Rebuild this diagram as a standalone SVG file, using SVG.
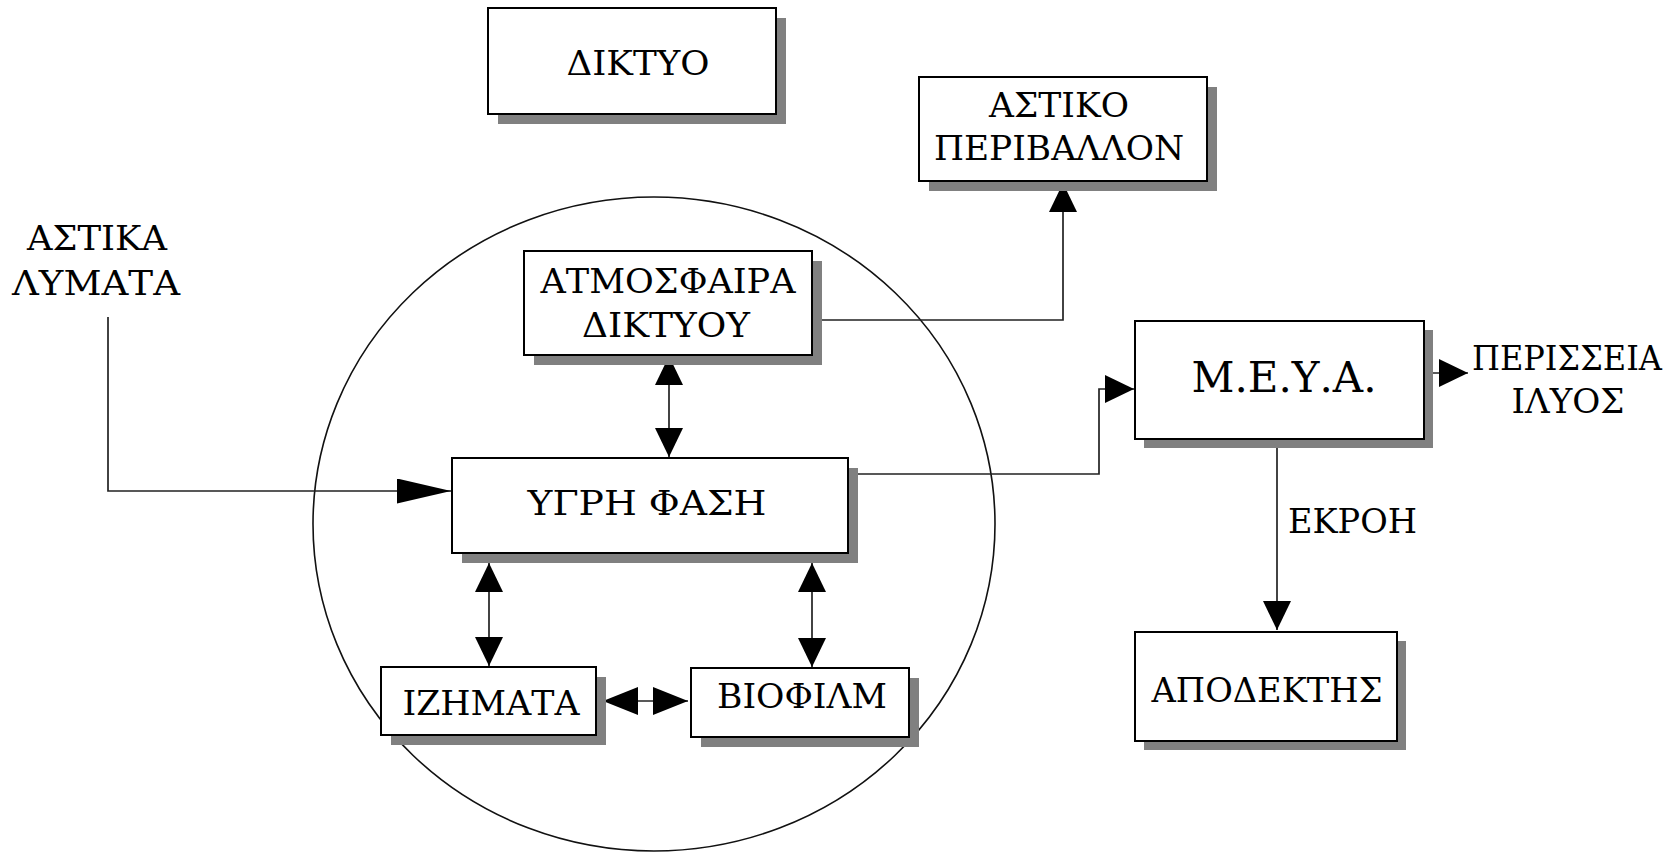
<svg xmlns="http://www.w3.org/2000/svg" width="1677" height="855" viewBox="0 0 1677 855">
<defs>
<style>
.sh{fill:#808080;}
.bx{fill:#fff;stroke:#000;stroke-width:2;}
.t{font-family:"DejaVu Serif","Liberation Serif",serif;font-size:33px;fill:#000;text-anchor:middle;}
.ln{fill:none;stroke:#222;stroke-width:1.7;}
</style>
<marker id="ah" viewBox="0 0 29 28" refX="29" refY="14" markerWidth="29" markerHeight="28" markerUnits="userSpaceOnUse" orient="auto-start-reverse">
<path d="M0,0 L29,14 L0,28 Z" fill="#000"/>
</marker>
<marker id="ahw" viewBox="0 0 35 28" refX="35" refY="14" markerWidth="35" markerHeight="28" markerUnits="userSpaceOnUse" orient="auto-start-reverse">
<path d="M0,0 L35,14 L0,28 Z" fill="#000"/>
</marker>
<marker id="ahl" viewBox="0 0 54 25" refX="54" refY="12.5" markerWidth="54" markerHeight="25" markerUnits="userSpaceOnUse" orient="auto">
<path d="M0,0 L54,12.5 L0,25 Z" fill="#000"/>
</marker>
</defs>
<rect width="1677" height="855" fill="#fff"/>
<ellipse id="boundary" cx="654" cy="524" rx="341" ry="327" fill="none" stroke="#111" stroke-width="1.6"/>
<g id="connectors">
<path class="ln" d="M108,317 V491 H451" marker-end="url(#ahl)"/>
<path class="ln" d="M812,320 H1063 V183" marker-end="url(#ah)"/>
<path class="ln" d="M669,356 V457" marker-start="url(#ah)" marker-end="url(#ah)"/>
<path class="ln" d="M848,474 H1099 V389 H1134" marker-end="url(#ah)"/>
<path class="ln" d="M489,563 V666" marker-start="url(#ah)" marker-end="url(#ah)"/>
<path class="ln" d="M812,563 V667" marker-start="url(#ah)" marker-end="url(#ah)"/>
<path class="ln" d="M603,701 H688" stroke-width="2.2" marker-start="url(#ahw)" marker-end="url(#ahw)"/>
<path class="ln" d="M1433,373 H1468" marker-end="url(#ah)"/>
<path class="ln" d="M1277,439 V630" marker-end="url(#ah)"/>
</g>
<g id="diktyo">
<rect class="sh" x="498" y="18" width="288" height="106"/>
<rect class="bx" x="488" y="8" width="288" height="106"/>
<text class="t" x="638" y="75" textLength="143" lengthAdjust="spacingAndGlyphs">ΔΙΚΤΥΟ</text>
</g>
<g id="astiko">
<rect class="sh" x="929" y="87" width="288" height="104"/>
<rect class="bx" x="919" y="77" width="288" height="104"/>
<text class="t" x="1059" y="117" textLength="140" lengthAdjust="spacingAndGlyphs">ΑΣΤΙΚΟ</text>
<text class="t" x="1059" y="160" textLength="250" lengthAdjust="spacingAndGlyphs">ΠΕΡΙΒΑΛΛΟΝ</text>
</g>
<g id="atmosfaira">
<rect class="sh" x="534" y="261" width="288" height="104"/>
<rect class="bx" x="524" y="251" width="288" height="104"/>
<text class="t" x="668" y="293" textLength="255" lengthAdjust="spacingAndGlyphs">ΑΤΜΟΣΦΑΙΡΑ</text>
<text class="t" x="666" y="337" textLength="168" lengthAdjust="spacingAndGlyphs">ΔΙΚΤΥΟΥ</text>
</g>
<g id="ygri">
<rect class="sh" x="462" y="468" width="396" height="95"/>
<rect class="bx" x="452" y="458" width="396" height="95"/>
<text class="t" x="647" y="515" textLength="239" lengthAdjust="spacingAndGlyphs">ΥΓΡΗ ΦΑΣΗ</text>
</g>
<g id="izimata">
<rect class="sh" x="391" y="677" width="215" height="68"/>
<rect class="bx" x="381" y="667" width="215" height="68"/>
<text class="t" x="491" y="715" textLength="177" lengthAdjust="spacingAndGlyphs">ΙΖΗΜΑΤΑ</text>
</g>
<g id="biofilm">
<rect class="sh" x="701" y="678" width="218" height="69"/>
<rect class="bx" x="691" y="668" width="218" height="69"/>
<text class="t" x="802" y="708" textLength="170" lengthAdjust="spacingAndGlyphs">ΒΙΟΦΙΛΜ</text>
</g>
<g id="meya">
<rect class="sh" x="1144" y="330" width="289" height="118"/>
<rect class="bx" x="1135" y="321" width="289" height="118"/>
<text class="t" x="1284" y="392" style="font-size:43px" textLength="185" lengthAdjust="spacingAndGlyphs">Μ.Ε.Υ.Α.</text>
</g>
<g id="apodektis">
<rect class="sh" x="1144" y="641" width="262" height="109"/>
<rect class="bx" x="1135" y="632" width="262" height="109"/>
<text class="t" x="1267" y="702" textLength="231" lengthAdjust="spacingAndGlyphs">ΑΠΟΔΕΚΤΗΣ</text>
</g>
<g id="astika-lymata">
<text class="t" x="97" y="250" textLength="140" lengthAdjust="spacingAndGlyphs">ΑΣΤΙΚΑ</text>
<text class="t" x="96" y="295" textLength="168" lengthAdjust="spacingAndGlyphs">ΛΥΜΑΤΑ</text>
</g>
<g id="perisseia">
<text class="t" x="1567" y="370" textLength="190" lengthAdjust="spacingAndGlyphs">ΠΕΡΙΣΣΕΙΑ</text>
<text class="t" x="1568" y="413" textLength="113" lengthAdjust="spacingAndGlyphs">ΙΛΥΟΣ</text>
</g>
<g id="ekroi-label">
<text class="t" x="1288" y="533" style="text-anchor:start" textLength="129" lengthAdjust="spacingAndGlyphs">ΕΚΡΟΗ</text>
</g>
</svg>
